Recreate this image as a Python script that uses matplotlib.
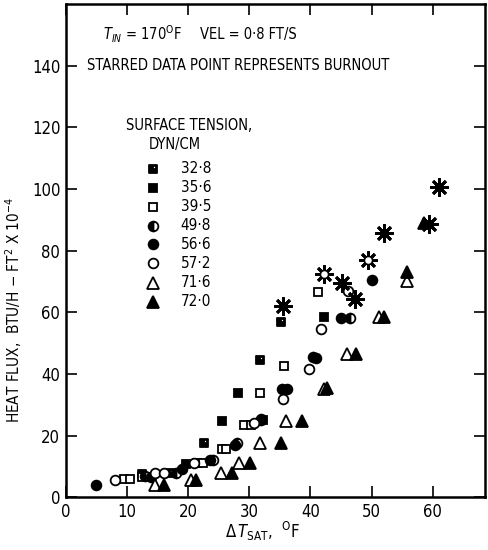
import matplotlib
matplotlib.use("Agg")
import matplotlib.pyplot as plt
from matplotlib.path import Path
from matplotlib import font_manager
import numpy as np

# pick a condensed sans if available
cond = None
for f in font_manager.fontManager.ttflist:
    n = (f.name + " " + f.fname).lower()
    if ("narrow" in n or "condensed" in n) and "bold" not in f.fname.lower() \
            and "oblique" not in f.fname.lower() and "italic" not in f.fname.lower():
        cond = f
        break
if cond is not None:
    fam = cond.name
    stretch = cond.stretch
else:
    fam = 'DejaVu Sans'
    stretch = 'normal'
plt.rcParams['font.family'] = [fam, 'DejaVu Sans']
plt.rcParams['font.stretch'] = stretch
plt.rcParams['mathtext.fontset'] = 'custom'
plt.rcParams['mathtext.rm'] = f"{fam}:stretch={stretch}"
plt.rcParams['mathtext.it'] = f"{fam}:italic:stretch={stretch}"
plt.rcParams['mathtext.bf'] = f"{fam}:bold:stretch={stretch}"

# ---------------- data ----------------
labels = ["32·8", "35·6", "39·5", "49·8", "56·6", "57·2", "71·6", "72·0"]

x_328 = [12.5, 17.0, 22.6, 31.8, 35.2]
y_328 = [7.5, 8.0, 17.6, 44.6, 56.8]
x_356 = [19.7, 25.6, 28.2, 32.3, 42.3]
y_356 = [10.7, 24.6, 33.7, 25.0, 58.5]
x_395 = [9.5, 10.5, 12.5, 21.5, 22.5, 25.6, 26.2, 29.2, 30.3, 31.8, 35.7, 41.3]
y_395 = [6.0, 6.0, 6.5, 11.0, 11.0, 15.5, 15.5, 23.5, 23.5, 33.9, 42.4, 66.5]
x_498 = [13.0, 18.0, 24.0, 28.0, 32.0, 35.3, 40.5, 46.5]
y_498 = [7.0, 8.0, 12.0, 17.5, 25.0, 35.0, 45.5, 58.0]
x_566 = [5.0, 14.0, 19.0, 23.5, 27.6, 32.0, 36.2, 41.0, 45.0, 50.0]
y_566 = [4.0, 6.5, 9.0, 12.0, 17.0, 25.5, 35.0, 45.0, 58.0, 70.5]
x_572 = [8.0, 14.5, 16.0, 21.0, 30.8, 35.6, 39.7, 41.7, 46.1]
y_572 = [5.5, 8.0, 8.0, 11.0, 24.0, 32.0, 41.7, 54.5, 67.0]
x_716 = [14.5, 20.5, 25.3, 28.4, 31.8, 36.0, 42.3, 46.0, 51.3, 55.8]
y_716 = [4.0, 5.5, 8.0, 11.0, 17.5, 24.6, 35.2, 46.3, 58.5, 70.0]
x_720 = [16.0, 21.3, 27.2, 30.1, 35.2, 38.7, 42.8, 47.4, 52.0, 55.8, 58.6]
y_720 = [4.0, 5.5, 7.7, 11.0, 17.6, 24.6, 35.3, 46.3, 58.5, 73.0, 89.0]

# burnout points (starred)
bx_filled = [35.5, 45.1, 47.3, 52.0, 59.4, 61.0]
by_filled = [62.0, 69.4, 64.4, 85.6, 88.5, 100.5]
bx_open = [42.3, 49.4]
by_open = [72.5, 77.0]

# ---------------- markers ----------------
def notched_square():
    outer = [(-1, -1), (1, -1), (1, 1), (-1, 1), (-1, -1)]
    inner = [(0.05, 0.05), (0.05, 0.7), (0.7, 0.7), (0.7, 0.05), (0.05, 0.05)]
    verts = outer + inner
    codes = [Path.MOVETO] + [Path.LINETO] * 3 + [Path.CLOSEPOLY]
    return Path(verts, codes + codes)

mk_328 = notched_square()

fig = plt.figure(figsize=(4.88, 5.5), dpi=100)
ax = fig.add_axes([0.135, 0.096, 0.858, 0.897])

ms = 7
common = dict(linestyle='none', markeredgecolor='black', markeredgewidth=1.3)
styles = [
    (x_328, y_328, dict(marker=mk_328, markerfacecolor='black', markersize=ms - 1, **common)),
    (x_356, y_356, dict(marker='s', markerfacecolor='black', markersize=ms - 1, **common)),
    (x_395, y_395, dict(marker='s', markerfacecolor='white', markersize=ms - 1, **common)),
    (x_498, y_498, dict(marker='o', fillstyle='left', markerfacecolor='black',
                        markerfacecoloralt='white', markersize=ms, **common)),
    (x_566, y_566, dict(marker='o', markerfacecolor='black', markersize=ms, **common)),
    (x_572, y_572, dict(marker='o', markerfacecolor='white', markersize=ms, **common)),
    (x_716, y_716, dict(marker='^', markerfacecolor='white', markersize=ms + 1, **common)),
    (x_720, y_720, dict(marker='^', markerfacecolor='black', markersize=ms + 1, **common)),
]
for xs, ys, st in styles:
    ax.plot(xs, ys, **st)

# starred burnout points
ax.plot(bx_filled, by_filled, linestyle='none', marker=(8, 2, 0), markersize=13,
        markeredgecolor='black', markeredgewidth=2.0)
ax.plot(bx_filled, by_filled, linestyle='none', marker='o', markersize=6,
        markerfacecolor='black', markeredgecolor='black')
ax.plot(bx_open, by_open, linestyle='none', marker=(8, 2, 0), markersize=13,
        markeredgecolor='black', markeredgewidth=2.0)
ax.plot(bx_open, by_open, linestyle='none', marker='o', markersize=6,
        markerfacecolor='white', markeredgecolor='black', markeredgewidth=1.3)

fs = 10.5 if stretch != 'normal' else 9.6

# legend (manual)
leg_y = [106.5, 100.4, 94.2, 88.1, 82.0, 75.8, 69.6, 63.4]
for (xs, ys, st), ly, lab in zip(styles, leg_y, labels):
    ax.plot([14.2], [ly], **st)
    ax.text(18.8, ly, lab, fontsize=fs + 0.5, va='center', ha='left')
ax.text(9.9, 120.5, "SURFACE TENSION,", fontsize=fs, va='center', ha='left')
ax.text(13.6, 114.5, "DYN/CM", fontsize=fs, va='center', ha='left')

ax.text(6.0, 150, r"$T_{IN}$ = 170$^{\rm O}$F", fontsize=fs, va='center', ha='left')
ax.text(22.0, 150, "VEL = 0·8 FT/S", fontsize=fs, va='center', ha='left')
ax.text(3.5, 140, "STARRED DATA POINT REPRESENTS BURNOUT", fontsize=fs,
        va='center', ha='left')

ax.set_xlim(0, 68.5)
ax.set_ylim(0, 160)
ax.set_xticks(np.arange(0, 61, 10))
ax.set_yticks(np.arange(0, 141, 20))
ax.tick_params(direction='in', length=8, width=1.2, top=True, right=True,
               labelsize=fs + 1.5, pad=4)
for s in ax.spines.values():
    s.set_linewidth(1.8)

ax.set_xlabel(r"$\Delta\,T_{\rm SAT}$,  $^{\rm O}$F", fontsize=fs + 1.5)
ax.set_ylabel(r"HEAT FLUX,  BTU/H $-$ FT$^2$ X 10$^{-4}$", fontsize=fs + 0.5)
ax.xaxis.set_label_coords(0.47, -0.045, transform=ax.transAxes)
ax.yaxis.set_label_coords(-0.1, 0.38, transform=ax.transAxes)

fig.savefig("out.png", dpi=100)
